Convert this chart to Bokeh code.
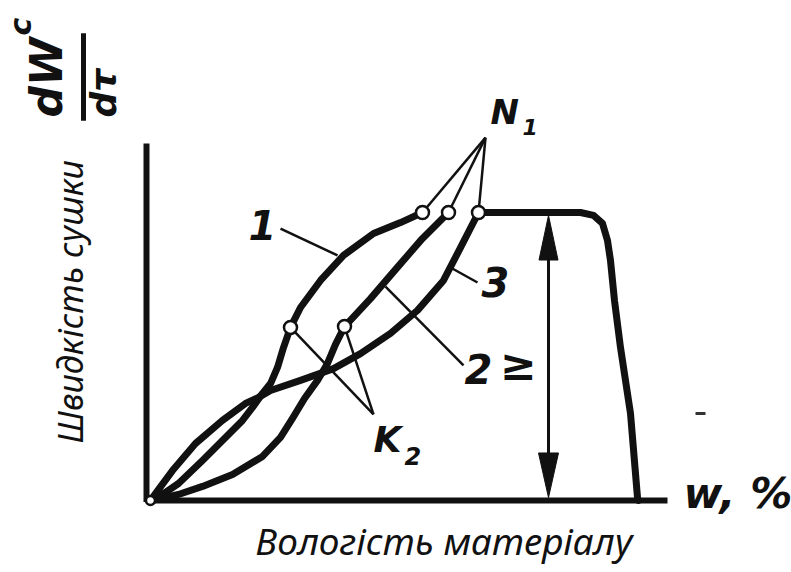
import math
from bokeh.plotting import figure
from bokeh.models import Range1d
from bokeh.core.properties import value
from bokeh.embed import file_html
from bokeh.resources import INLINE

# ---- data (moisture w in %, drying rate r in % of constant-rate value) ----
c1_w = [0, 3, 5.6, 10.4, 15, 18.4, 20.4, 22.4, 24, 25.4, 26.6, 28, 30, 34, 38.6, 44.6, 50, 54.4]
c1_r = [0, 2.8, 5.9, 13.9, 21.9, 27.8, 32.3, 37.2, 40.6, 46.2, 53.1, 60.1, 67.0, 76.4, 85.1, 92.7, 96.5, 100]

c2_w = [0, 2, 5.6, 10.4, 16.4, 22.4, 26, 28.4, 30.8, 33.4, 35.4, 37, 38.8, 44, 49.2, 54.4, 59.6]
c2_r = [0, 0.7, 2.1, 4.9, 9.0, 15.3, 21.9, 28.5, 35.4, 41.7, 47.6, 54.2, 60.4, 70.1, 80.6, 91.0, 100]

c3_w = [0, 1, 4.4, 9, 14.4, 19, 21.6, 24, 30, 36.6, 42, 48, 53.4, 58.6, 62, 65.6]
c3_r = [0, 2.4, 10.4, 19.8, 27.8, 33.7, 35.8, 38.2, 41.7, 45.8, 51.0, 58.0, 66.0, 76.4, 87.8, 100]

# constant-rate period and heating period
cp_w = [65.6, 86, 88.6, 90.4, 91.4, 92, 92.8, 94, 96, 97.4, 97.6]
cp_r = [100, 100, 99.0, 96.2, 90.3, 83.3, 69.4, 53.1, 30.2, 1.0, 0]

# critical points
n1_w = [54.4, 59.6, 65.6]
n1_r = [100, 100, 100]
k2_w = [28, 38.8]
k2_r = [60.1, 60.4]
n1_apex = (67, 126.0)
k2_apex = (44.6, 29.9)

# axes
ax_top = 124
ax_right = 103.4

# double arrow (constant rate)
arr_w = 79.6
arr_r0, arr_r1 = 1.0, 99.0
arr_head = 15.5

BLACK = "#111111"

p = figure(width=791, height=572, output_backend="svg", toolbar_location=None,
           x_range=Range1d(-30, 128.2), y_range=Range1d(-25.0, 173.61),
           x_axis_location=None, y_axis_location=None, min_border=0,
           outline_line_color=None, background_fill_color="white",
           border_fill_color="white")
p.grid.visible = False

# axes lines
p.line([-0.8, -0.8], [-0.5, ax_top], line_width=6, line_color=BLACK)
p.line([-0.8, ax_right], [0, 0], line_width=6, line_color=BLACK)

# curves
for xs, ys in [(c1_w, c1_r), (c2_w, c2_r), (c3_w, c3_r), (cp_w, cp_r)]:
    p.line(xs, ys, line_width=7, line_color=BLACK, line_join="round", line_cap="round")

# leader lines
lw = 2.5
for (x0, y0), (x1, y1) in [((n1_apex[0], n1_apex[1]), (n1_w[0], n1_r[0])),
                           ((n1_apex[0], n1_apex[1]), (n1_w[1], n1_r[1])),
                           ((n1_apex[0], n1_apex[1]), (n1_w[2], n1_r[2])),
                           ((k2_apex[0], k2_apex[1]), (k2_w[0], k2_r[0])),
                           ((k2_apex[0], k2_apex[1]), (k2_w[1], k2_r[1])),
                           ((26, 94.4), (37.4, 85.1)),
                           ((47, 74.3), (62.6, 46.9)),
                           ((60, 80.9), (65.4, 75.7))]:
    p.line([x0, x1], [y0, y1], line_width=lw, line_color=BLACK)

# arrow
p.line([arr_w, arr_w], [arr_r0 + 2, arr_r1 - 2], line_width=3, line_color=BLACK)
p.patches([[arr_w, arr_w - 1.9, arr_w + 1.9], [arr_w, arr_w - 2.0, arr_w + 2.0]],
          [[arr_r1, arr_r1 - arr_head, arr_r1 - arr_head], [arr_r0, arr_r0 + arr_head, arr_r0 + arr_head]],
          fill_color=BLACK, line_color=BLACK, line_width=1)

# small speck
p.line([109, 111], [30.2, 30.2], line_width=3, line_color="#333333")

# points
p.scatter(n1_w + k2_w, n1_r + k2_r, size=13, fill_color="white", line_color=BLACK, line_width=2.5)
p.scatter([0], [0], size=9, fill_color="white", line_color=BLACK, line_width=2.5)

HF = value("DejaVu Sans")
def lab(x, y, t, size, align="left", angle=0.0, font=HF, style="bold italic"):
    p.text(x=[x], y=[y], text=[t], text_font=font, text_font_style=style,
           text_font_size=size, text_align=align, text_baseline="alphabetic",
           angle=angle, text_color=BLACK)

lab(22.4, 95.8, "1", "40px", "center")
lab(65.6, 45.5, "2", "40px", "center")
lab(73.6, 47.2, "≥", "44px", "center")
lab(69, 75.7, "3", "40px", "center")
lab(68, 134.9, "N", "34px")
lab(74.4, 129.8, "1", "22px")
lab(44.6, 21.3, "K", "36px")
lab(50.8, 15.5, "2", "24px")
lab(106.6, 2.4, "w, %", "42px")

# y-axis quantity dW^c/dτ (rotated)
r90 = math.pi / 2
lab(-20.9, 133, "dW", "44px", angle=r90)
lab(-26.0, 161.5, "c", "30px", angle=r90)
p.line([-13.4, -13.4], [131.9, 162.2], line_width=5, line_color=BLACK)
lab(-9.5, 133, "dτ", "36px", angle=r90)

NF = value("Noto Sans")
lab(-16.1, 19.8, "Швидкість сушки", "34px", angle=r90, font=NF, style="italic")
lab(21, -14.0, "Вологість матеріалу", "37px", font=NF, style="italic")

open("out.html", "w").write(file_html(p, INLINE))
